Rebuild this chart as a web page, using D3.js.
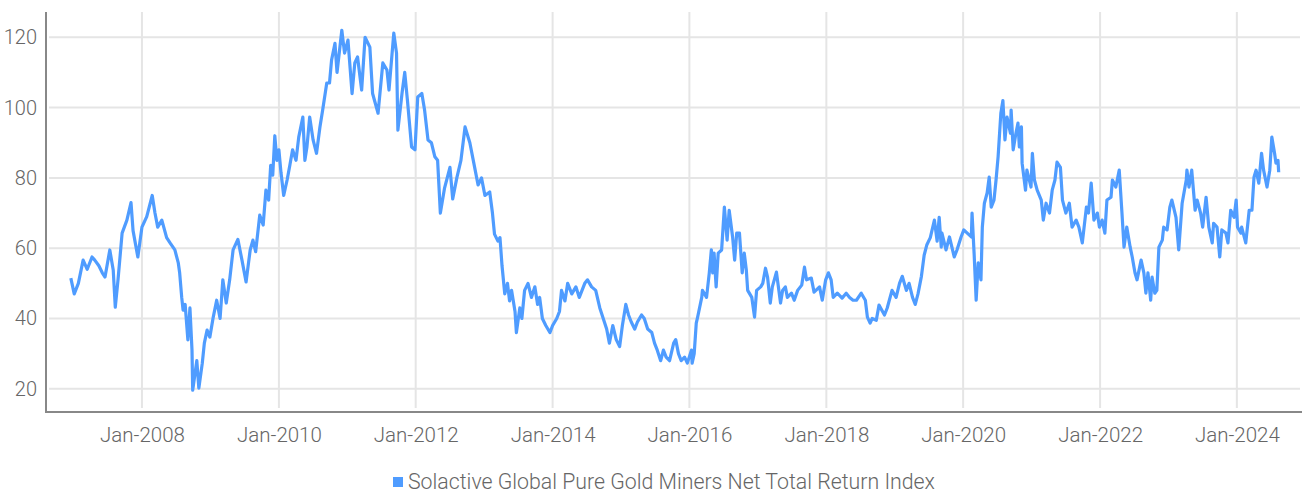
<!DOCTYPE html>
<html><head><meta charset="utf-8">
<script src="https://cdn.jsdelivr.net/npm/d3@7"></script>
<style>
html,body{margin:0;padding:0;background:#fff;}
svg text{font-family:Roboto,"Noto Sans",sans-serif;font-weight:300;fill:#666;}
</style></head>
<body><svg id="chart" width="1302" height="493"></svg>
<script>
// Dates as decimal years
const dates = [
2006.96,2007.01,2007.07,2007.14,2007.20,2007.27,2007.31,2007.37,2007.42,2007.46,2007.53,2007.58,2007.61,2007.65,2007.71,2007.78,2007.84,2007.87,2007.94,2008.00,
2008.07,2008.15,2008.19,2008.23,2008.29,2008.36,2008.41,2008.48,2008.53,2008.55,2008.58,2008.60,2008.63,2008.67,2008.70,2008.73,2008.74,2008.80,2008.83,2008.88,
2008.91,2008.95,2008.99,2009.04,2009.09,2009.14,2009.18,2009.23,2009.28,2009.33,2009.40,2009.46,2009.52,2009.58,2009.62,2009.66,2009.72,2009.77,2009.81,2009.85,
2009.88,2009.91,2009.94,2009.97,2010.00,2010.03,2010.07,2010.12,2010.16,2010.20,2010.25,2010.29,2010.35,2010.38,2010.41,2010.45,2010.50,2010.55,2010.60,2010.64,
2010.70,2010.74,2010.77,2010.82,2010.85,2010.92,2010.96,2011.01,2011.07,2011.11,2011.15,2011.21,2011.26,2011.33,2011.37,2011.45,2011.52,2011.58,2011.61,2011.68,
2011.72,2011.74,2011.80,2011.84,2011.88,2011.94,2011.99,2012.03,2012.09,2012.13,2012.18,2012.23,2012.28,2012.32,2012.36,2012.42,2012.50,2012.54,2012.60,2012.66,
2012.72,2012.79,2012.86,2012.91,2012.96,2013.01,2013.08,2013.12,2013.15,2013.20,2013.23,2013.26,2013.30,2013.34,2013.37,2013.40,2013.45,2013.47,2013.52,2013.55,
2013.59,2013.64,2013.69,2013.74,2013.78,2013.81,2013.85,2013.90,2013.96,2014.00,2014.06,2014.10,2014.13,2014.18,2014.22,2014.28,2014.34,2014.39,2014.47,2014.51,
2014.57,2014.63,2014.69,2014.74,2014.79,2014.83,2014.88,2014.93,2014.98,2015.02,2015.07,2015.11,2015.15,2015.20,2015.24,2015.30,2015.34,2015.39,2015.45,2015.49,
2015.53,2015.58,2015.62,2015.66,2015.71,2015.77,2015.80,2015.84,2015.88,2015.93,2015.97,2016.03,2016.04,2016.07,2016.10,2016.12,2016.18,2016.19,2016.25,2016.29,
2016.32,2016.34,2016.36,2016.39,2016.42,2016.47,2016.51,2016.55,2016.58,2016.63,2016.66,2016.69,2016.73,2016.77,2016.80,2016.83,2016.85,2016.91,2016.95,2016.98,
2017.04,2017.07,2017.11,2017.14,2017.18,2017.21,2017.27,2017.33,2017.36,2017.40,2017.43,2017.49,2017.53,2017.58,2017.64,2017.68,2017.71,2017.78,2017.82,2017.90,
2017.94,2017.99,2018.03,2018.07,2018.10,2018.16,2018.23,2018.29,2018.34,2018.39,2018.44,2018.51,2018.57,2018.60,2018.64,2018.67,2018.73,2018.77,2018.85,2018.89,
2018.96,2019.02,2019.07,2019.11,2019.17,2019.21,2019.26,2019.30,2019.34,2019.39,2019.43,2019.47,2019.52,2019.58,2019.62,2019.65,2019.68,2019.69,2019.75,2019.80,
2019.87,2019.91,2019.97,2020.01,2020.06,2020.12,2020.13,2020.16,2020.19,2020.22,2020.26,2020.28,2020.31,2020.35,2020.38,2020.41,2020.45,2020.48,2020.51,2020.55,
2020.58,2020.61,2020.64,2020.69,2020.70,2020.73,2020.77,2020.80,2020.82,2020.85,2020.86,2020.91,2020.93,2020.99,2021.01,2021.04,2021.08,2021.14,2021.17,2021.21,
2021.26,2021.30,2021.34,2021.37,2021.42,2021.45,2021.50,2021.55,2021.59,2021.65,2021.69,2021.74,2021.80,2021.83,2021.87,2021.91,2021.96,2021.99,2022.03,2022.07,
2022.10,2022.16,2022.18,2022.23,2022.28,2022.32,2022.35,2022.39,2022.44,2022.47,2022.51,2022.54,2022.60,2022.64,2022.67,2022.70,2022.74,2022.76,2022.80,2022.83,
2022.86,2022.91,2022.93,2022.98,2023.02,2023.05,2023.11,2023.15,2023.20,2023.26,2023.27,2023.30,2023.34,2023.39,2023.42,2023.47,2023.50,2023.55,2023.59,2023.64,
2023.66,2023.71,2023.75,2023.78,2023.84,2023.87,2023.91,2023.96,2023.99,2024.01,2024.06,2024.07,2024.13,2024.18,2024.22,2024.25,2024.28,2024.32,2024.36,2024.39,
2024.44,2024.48,2024.51,2024.55,2024.57,2024.60,2024.61
];
const values = [
51.5,47,50,56.6,54,57.5,56.6,55,53,51.8,59.5,53.8,43.2,51,64.3,68,73,65,57.5,66,
69,75,70,66,68,63,61.5,59.5,55.8,53,46,42.4,44,33.9,43,31,19.6,28,20.2,27.3,
33,36.7,34.7,40.4,45.2,40,51,44.4,51,59.5,62.5,56.6,50.4,59.5,62.3,59,69.4,66.6,76.5,73.7,
83.6,80.8,92,85,88,81.6,75,79.4,83.6,88,85,91.6,97.3,85,88.8,97.3,90.8,87,94.5,99.3,
107,107,113.5,118.3,110,122,115.5,119.2,104,112.7,114.4,105,120,117.2,104,98.4,112.7,110.7,105,121.2,
115.5,93.6,104,110,102,88.8,88,103,104,99.3,90.8,90,86,85,70,77,83,74,80,85,
94.5,90,83,78,80,75,76,70,64,62,63,55,47,50,45,48,42,36,43,40,
48,50,46,49,44,46,40,38,36,38,40,42,48,45,50,47,49,46,50,51,
49,48,43,40,37,33,38,34,32,38,44,41,39,37,39,41,40,37,36,33,
31,28,31,29,28,33,34,30,28,29,27.3,31,27.3,30,38.7,40.4,46,48,46,53,
59.5,53,58.6,49,58.6,59.5,71.7,62.3,70.8,63.2,56.6,64.3,64.3,53,58.6,53.8,48,46,40.4,48,
49,50,54.3,51.8,44.4,49,53.2,44.4,48,49,46,47.2,45.2,48,49.5,54.6,51,51.5,47.5,49,
45.2,51,53,51,46,47.2,45.8,47.2,46,45.2,45.2,47.2,45.2,40.4,38.7,40,39.5,43.8,41,43,
48,46,50,52,48,50,46,44,47,52,58,61,63,68,62,68.8,60.3,64.3,59.5,63.2,
57.5,59.5,63.2,65.2,64.3,63.2,70,58.6,45.2,55.8,51,66,72.8,75.7,80.2,71.7,73.7,79.4,86,98.4,
102,90.8,97.3,92.7,99.3,88,92.7,95.6,88.8,94.5,84.2,76.5,82.2,77.4,87,79.4,76.5,73.7,68,72.8,
70,76.5,79.4,84.5,83,73.7,70,72.8,66,68,66,61.5,71.7,70,78.5,68,70,66,68,64.3,
73.7,74.5,79.4,77.4,82.2,70,60.3,66,60.3,57.5,53,51,56.6,53,47.2,53,45.2,51.8,47.2,48,
60.3,62.3,66,65.2,71.7,73.7,68.8,59.5,72.8,79.4,82.2,77.4,82.2,70.8,73.7,70,66,74.5,66,61.5,
67.1,66,57.5,65.2,64.3,61.5,70.8,68.8,73.7,66,64.3,66,61.5,70.8,70.8,80.2,82.2,78.5,87,82.2,
77.4,82.2,91.6,87,84.2,85,81.6
];
const yTicks = [20, 40, 60, 80, 100, 120];
const xTickYears = [2008, 2010, 2012, 2014, 2016, 2018, 2020, 2022, 2024];
const seriesName = "Solactive Global Pure Gold Miners Net Total Return Index";

function toDate(dy) {
  const y = Math.floor(dy);
  const start = new Date(y, 0, 1), end = new Date(y + 1, 0, 1);
  return new Date(start.getTime() + (dy - y) * (end - start));
}

const data = dates.map((d, i) => ({ date: toDate(d), value: values[i] }));

const svg = d3.select("#chart");
const L = 46, R = 1302, T = 12, B = 412;

const x = d3.scaleTime()
  .domain([toDate(2006.597), toDate(2024.95)])
  .range([L, R]);
const y = d3.scaleLinear().domain([13.4, 127.2]).range([B, T]);

const xTicks = xTickYears.map(yr => new Date(yr, 0, 1));

// gridlines
const grid = svg.append("g");
grid.selectAll("line.h").data(yTicks).join("line")
  .attr("x1", L + 3).attr("x2", R - 2)
  .attr("y1", d => y(d)).attr("y2", d => y(d))
  .attr("stroke", "#e5e5e5").attr("stroke-width", 2);
grid.selectAll("line.v").data(xTicks).join("line")
  .attr("x1", d => x(d)).attr("x2", d => x(d))
  .attr("y1", T).attr("y2", B - 4)
  .attr("stroke", "#e5e5e5").attr("stroke-width", 2);

// line
svg.append("path").datum(data)
  .attr("fill", "none")
  .attr("stroke", "#4f9cff")
  .attr("stroke-width", 3.2)
  .attr("stroke-linejoin", "round")
  .attr("d", d3.line().x(d => x(d.date)).y(d => y(d.value)));

// axes
const yAxis = svg.append("g").attr("transform", `translate(${L},0)`)
  .call(d3.axisLeft(y).tickValues(yTicks).tickSize(0).tickPadding(9));
yAxis.select(".domain").remove();
yAxis.selectAll("text").attr("font-size", 20).style("font-family", "Roboto").style("font-weight", 300).attr("fill", "#666");

const xAxis = svg.append("g").attr("transform", `translate(0,${B})`)
  .call(d3.axisBottom(x).tickValues(xTicks).tickFormat(d3.timeFormat("Jan-%Y")).tickSize(0).tickPadding(15));
xAxis.select(".domain").remove();
xAxis.selectAll("text").attr("font-size", 20.5).style("font-family", "Roboto").style("font-weight", 300).attr("fill", "#666");

svg.append("line").attr("x1", L).attr("x2", L).attr("y1", T).attr("y2", B + 1)
  .attr("stroke", "#888").attr("stroke-width", 2);
svg.append("line").attr("x1", L - 1).attr("x2", R).attr("y1", B).attr("y2", B)
  .attr("stroke", "#888").attr("stroke-width", 2);

// legend
const leg = svg.append("g").attr("transform", "translate(393,482)");
leg.append("rect").attr("x", 0).attr("y", -5).attr("width", 10).attr("height", 10).attr("fill", "#4f9cff");
leg.append("text").attr("x", 15).attr("y", 0).attr("dy", "0.35em")
  .attr("font-size", 21.3).text(seriesName);
</script></body></html>
